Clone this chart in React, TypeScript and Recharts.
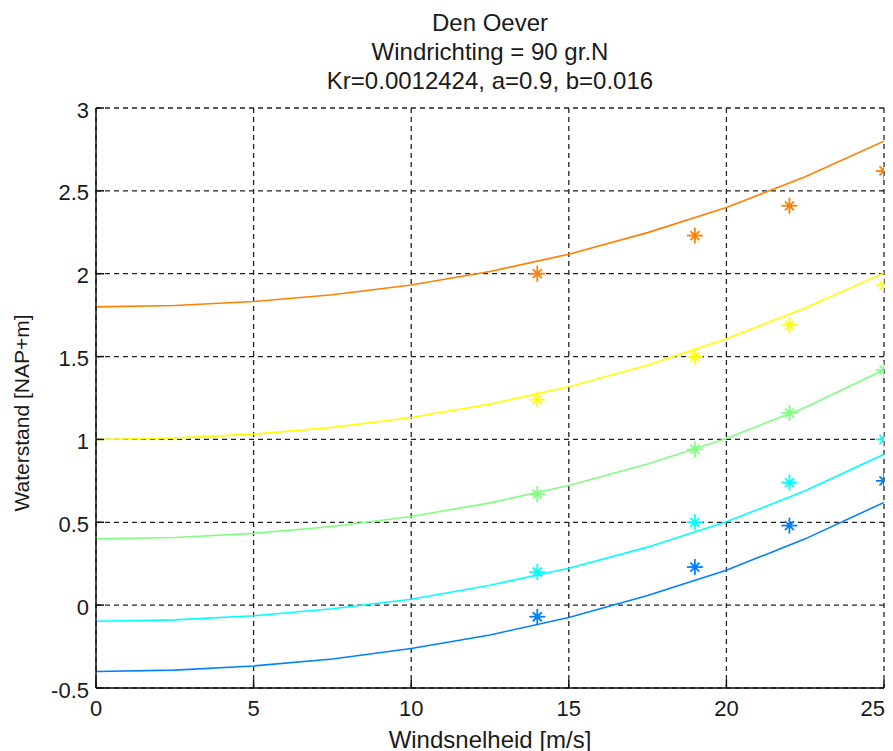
import React from "react";
import { ComposedChart, Line, Scatter, XAxis, YAxis, CartesianGrid, Label } from "recharts";

const windSpeeds = [0, 2.5, 5, 7.5, 10, 12.5, 15, 17.5, 20, 22.5, 25];
const curveOrange = [1.8, 1.808, 1.832, 1.873, 1.932, 2.013, 2.118, 2.248, 2.4, 2.585, 2.8];
const curveYellow = [1.0, 1.008, 1.032, 1.073, 1.132, 1.213, 1.318, 1.448, 1.607, 1.793, 2.005];
const curveGreen = [0.4, 0.408, 0.433, 0.475, 0.535, 0.617, 0.722, 0.852, 1.006, 1.193, 1.42];
const curveCyan = [-0.097, -0.089, -0.064, -0.022, 0.036, 0.12, 0.223, 0.35, 0.503, 0.69, 0.91];
const curveBlue = [-0.4, -0.392, -0.367, -0.325, -0.262, -0.18, -0.074, 0.058, 0.211, 0.4, 0.62];

const obsSpeeds = [14, 19, 22, 25];
const obsOrange = [2.0, 2.23, 2.41, 2.62];
const obsYellow = [1.24, 1.5, 1.69, 1.93];
const obsGreen = [0.67, 0.94, 1.16, 1.42];
const obsCyan = [0.2, 0.5, 0.74, 1.0];
const obsBlue = [-0.07, 0.23, 0.48, 0.75];

const xTicks = [0, 5, 10, 15, 20, 25];
const yTicks = [-0.5, 0, 0.5, 1, 1.5, 2, 2.5, 3];

const titleLines = ["Den Oever", "Windrichting = 90 gr.N", "Kr=0.0012424, a=0.9, b=0.016"];
const xLabel = "Windsnelheid [m/s]";
const yLabel = "Waterstand [NAP+m]";

const COLORS = {
  orange: "#FF8000",
  yellow: "#FFFF00",
  green: "#80FF80",
  cyan: "#00FFFF",
  blue: "#0080FF",
};

const FONT = "'Liberation Sans', Arial, sans-serif";
const TEXT = "#1a1a1a";

const curveData = windSpeeds.map((x, i) => ({
  x,
  orange: curveOrange[i],
  yellow: curveYellow[i],
  green: curveGreen[i],
  cyan: curveCyan[i],
  blue: curveBlue[i],
}));

const mkObs = (vals: number[]) => obsSpeeds.map((x, i) => ({ x, y: vals[i] }));

const Asterisk = (color: string) => (props: any) => {
  const { cx, cy } = props;
  if (cx == null || cy == null) return null;
  const a = 8;
  const d = 4.5;
  return (
    <g stroke={color} strokeWidth={1.8}>
      <line x1={cx - a} y1={cy} x2={cx + a} y2={cy} />
      <line x1={cx} y1={cy - a} x2={cx} y2={cy + a} />
      <line x1={cx - d} y1={cy - d} x2={cx + d} y2={cy + d} />
      <line x1={cx - d} y1={cy + d} x2={cx + d} y2={cy - d} />
      <circle cx={cx} cy={cy} r={2.5} fill={color} stroke="none" />
    </g>
  );
};

const XTick = (props: any) => {
  const { x, y, payload, index, visibleTicksCount } = props;
  const last = index === (visibleTicksCount ?? xTicks.length) - 1;
  return (
    <text
      x={last ? x + 1 : x}
      y={y}
      textAnchor={last ? "end" : "middle"}
      dominantBaseline="central"
      fontFamily={FONT}
      fontSize={22}
      fill={TEXT}
    >
      {payload.value}
    </text>
  );
};

const YTick = (props: any) => {
  const { x, y, payload } = props;
  return (
    <text x={x} y={y + 2} textAnchor="end" dominantBaseline="central" fontFamily={FONT} fontSize={22} fill={TEXT}>
      {payload.value}
    </text>
  );
};

export default function App() {
  const W = 877;
  const H = 743;
  const CW = 910;
  const CH = 760;
  return (
    <div
      style={{
        position: "relative",
        width: W,
        height: H,
        background: "#fff",
        overflow: "hidden",
      }}
    >
      <div
        style={{
          position: "absolute",
          left: 482,
          top: 0,
          transform: "translateX(-50%)",
          textAlign: "center",
          fontFamily: FONT,
          fontSize: 24,
          lineHeight: "29px",
          color: TEXT,
          whiteSpace: "nowrap",
          zIndex: 2,
        }}
      >
        {titleLines.map((t) => (
          <div key={t}>{t}</div>
        ))}
      </div>
      <ComposedChart width={CW} height={CH} data={curveData} margin={{ top: 100, right: CW - 876, bottom: CH - 743, left: 0 }}>
        <CartesianGrid stroke="#222" strokeDasharray="5 4" strokeWidth={1.3} />
        <XAxis
          dataKey="x"
          type="number"
          domain={[0, 25]}
          ticks={xTicks}
          interval={0}
          height={63}
          allowDataOverflow
          stroke="#111"
          strokeWidth={1.5}
          tickSize={-8}
          tickMargin={28}
          tick={<XTick />}
        >
          <Label
            content={(p: any) => {
              const vb = p.viewBox;
              return (
                <text
                  x={vb.x + vb.width / 2}
                  y={vb.y + 51}
                  textAnchor="middle"
                  dominantBaseline="central"
                  fontFamily={FONT}
                  fontSize={24}
                  fill={TEXT}
                >
                  {xLabel}
                </text>
              );
            }}
          />
        </XAxis>
        <YAxis
          type="number"
          domain={[-0.5, 3]}
          ticks={yTicks}
          interval={0}
          width={88}
          allowDataOverflow
          stroke="#111"
          strokeWidth={1.5}
          tickSize={-8}
          tickMargin={15}
          tick={<YTick />}
        >
          <Label
            content={(p: any) => {
              const vb = p.viewBox;
              const cx = vb.x + 13;
              const cy = vb.y + vb.height / 2 + 15;
              return (
                <text
                  x={cx}
                  y={cy}
                  transform={`rotate(-90 ${cx} ${cy})`}
                  textAnchor="middle"
                  dominantBaseline="central"
                  fontFamily={FONT}
                  fontSize={21}
                  fill={TEXT}
                >
                  {yLabel}
                </text>
              );
            }}
          />
        </YAxis>
        <Line type="linear" dataKey="orange" stroke={COLORS.orange} strokeWidth={1.6} dot={false} isAnimationActive={false} />
        <Line type="linear" dataKey="yellow" stroke={COLORS.yellow} strokeWidth={1.6} dot={false} isAnimationActive={false} />
        <Line type="linear" dataKey="green" stroke={COLORS.green} strokeWidth={1.6} dot={false} isAnimationActive={false} />
        <Line type="linear" dataKey="cyan" stroke={COLORS.cyan} strokeWidth={1.6} dot={false} isAnimationActive={false} />
        <Line type="linear" dataKey="blue" stroke={COLORS.blue} strokeWidth={1.6} dot={false} isAnimationActive={false} />
        <Scatter data={mkObs(obsOrange)} dataKey="y" shape={Asterisk(COLORS.orange)} isAnimationActive={false} />
        <Scatter data={mkObs(obsYellow)} dataKey="y" shape={Asterisk(COLORS.yellow)} isAnimationActive={false} />
        <Scatter data={mkObs(obsGreen)} dataKey="y" shape={Asterisk(COLORS.green)} isAnimationActive={false} />
        <Scatter data={mkObs(obsCyan)} dataKey="y" shape={Asterisk(COLORS.cyan)} isAnimationActive={false} />
        <Scatter data={mkObs(obsBlue)} dataKey="y" shape={Asterisk(COLORS.blue)} isAnimationActive={false} />
      </ComposedChart>
    </div>
  );
}
